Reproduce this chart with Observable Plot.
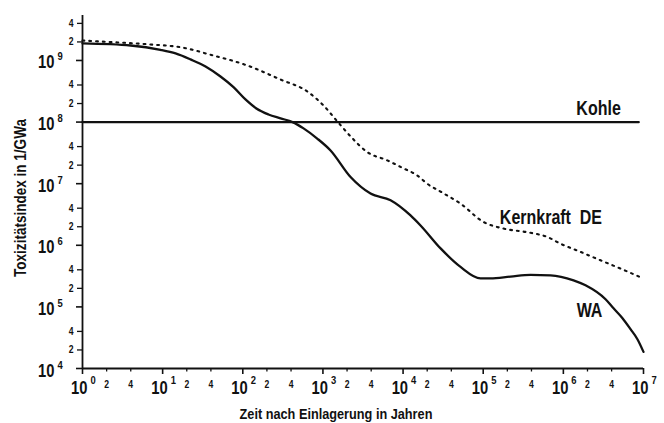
<!DOCTYPE html>
<html><head><meta charset="utf-8">
<script src="https://cdn.jsdelivr.net/npm/d3@7"></script>
<script src="https://cdn.jsdelivr.net/npm/@observablehq/plot@0.6"></script>
<style>body{margin:0;background:#fff} svg{display:block}</style>
</head><body><div id="chart"></div>
<script>
// WA (solid)
const waYears  = [1, 4, 9.4, 14.5, 22.3, 34.3, 52.7, 76.6, 108, 148, 209, 296, 417, 573, 849, 1245, 2213, 3926, 6982, 12390, 16520, 29380, 52120, 92470, 123300, 219300, 389000, 691800, 1.34e6, 1.89e6, 3.36e6, 4.23e6, 5.47e6, 6.89e6, 8.4e6, 1e7];
const waValues = [1.89e9, 1.75e9, 1.49e9, 1.30e9, 1.04e9, 8.0e8, 5.5e8, 3.69e8, 2.33e8, 1.66e8, 1.33e8, 1.15e8, 1.0e8, 7.9e7, 5.4e7, 3.46e7, 1.28e7, 6.9e6, 5.4e6, 3.06e6, 2.1e6, 8.9e5, 4.45e5, 2.9e5, 2.9e5, 3.1e5, 3.3e5, 3.26e5, 2.7e5, 2.24e5, 1.33e5, 9.5e4, 6.56e4, 4.35e4, 2.99e4, 1.86e4];
// Kernkraft DE (dotted)
const kkYears  = [1, 1.68, 7.06, 16.7, 43.2, 113.5, 296, 637, 1016, 1479, 2213, 3573, 6339, 10140, 15030, 20000, 32000, 52100, 101000, 179000, 354000, 634000, 923000, 1.64e6, 2.91e6, 5.16e6, 1e7];
const kkValues = [2.11e9, 2.03e9, 1.82e9, 1.64e9, 1.2e9, 8.3e8, 4.9e8, 3.14e8, 1.86e8, 1.06e8, 5.85e7, 3.26e7, 2.39e7, 1.77e7, 1.36e7, 1.0e7, 6.97e6, 4.74e6, 2.39e6, 1.87e6, 1.63e6, 1.36e6, 1.06e6, 7.8e5, 5.7e5, 4.19e5, 2.88e5];
// Kohle (horizontal)
const kohleYears  = [1, 8.7e6];
const kohleValues = [1e8, 1e8];

const labelNames  = ["Kohle", "Kernkraft  DE", "WA"];
const labelYears  = [2.75e6, 7.0e5, 2.12e6];
const labelValues = [1.28e8, 2.2e6, 6.9e4];

const xDecades = [1, 10, 100, 1e3, 1e4, 1e5, 1e6, 1e7];
const xMinor   = [2, 4, 20, 40, 200, 400, 2e3, 4e3, 2e4, 4e4, 2e5, 4e5, 2e6, 4e6];
const yDecades = [1e4, 1e5, 1e6, 1e7, 1e8, 1e9];
const yMinor   = [2e4, 4e4, 2e5, 4e5, 2e6, 4e6, 2e7, 4e7, 2e8, 4e8, 2e9, 4e9];

const xTitle = "Zeit nach Einlagerung in Jahren";
const yTitle = "Toxizitätsindex in 1/GWa";

const FONT = "'Liberation Sans', Arial, sans-serif";
const NARROW = 0.82;
const lead = d => String(Math.round(d / Math.pow(10, Math.floor(Math.log10(d) + 1e-9))));
const expo = d => String(Math.round(Math.log10(d)));
const rows = (xs, ys) => xs.map((x, i) => ({x, y: ys[i]}));
const INK = "#111";

const chart = Plot.plot({
  width: 664, height: 423,
  marginLeft: 82, marginRight: 21, marginTop: 15, marginBottom: 55,
  x: {type: "log", domain: [1, 1e7], axis: null},
  y: {type: "log", domain: [1e4, Math.pow(10, 9.73)], axis: null},
  style: {fontFamily: FONT, fontWeight: "bold", background: "#fff", color: INK},
  marks: [
    // axis lines
    Plot.ruleX([1], {strokeWidth: 1.8, stroke: INK}),
    Plot.ruleY([1e4], {strokeWidth: 1.8, stroke: INK}),
    // tick marks
    Plot.ruleX(xMinor, {x: d => d, y1: 1e4, y2: 1e4, insetBottom: -3.5, strokeWidth: 1.3, stroke: INK}),
    Plot.ruleX(xDecades, {x: d => d, y1: 1e4, y2: 1e4, insetBottom: -6, strokeWidth: 1.6, stroke: INK}),
    Plot.ruleY(yMinor, {y: d => d, x1: 1, x2: 1, insetLeft: -5, strokeWidth: 1.3, stroke: INK}),
    Plot.ruleY(yDecades, {y: d => d, x1: 1, x2: 1, insetLeft: -6, strokeWidth: 1.6, stroke: INK}),
    // minor tick labels
    Plot.text(xMinor, {x: d => d, frameAnchor: "bottom", text: lead, lineAnchor: "top", dy: 12, fontSize: 10.5}),
    Plot.text(yMinor, {y: d => d, frameAnchor: "left", text: lead, textAnchor: "end", dx: -9, fontSize: 10.5}),
    // decade labels 10^n
    Plot.text(xDecades, {x: d => d, frameAnchor: "bottom", text: () => "10", textAnchor: "end", lineAnchor: "bottom", dx: 5, dy: 25, fontSize: 18}),
    Plot.text(xDecades, {x: d => d, frameAnchor: "bottom", text: expo, textAnchor: "start", lineAnchor: "bottom", dx: 8, dy: 15, fontSize: 11.5}),
    Plot.text(yDecades, {y: d => d, frameAnchor: "left", text: () => "10", textAnchor: "end", lineAnchor: "bottom", dx: -28, dy: 8, fontSize: 18}),
    Plot.text(yDecades, {y: d => d, frameAnchor: "left", text: expo, textAnchor: "start", lineAnchor: "bottom", dx: -25, dy: 0, fontSize: 11.5}),
    // axis titles
    Plot.text([xTitle], {frameAnchor: "bottom", text: d => d, textAnchor: "middle", lineAnchor: "bottom", dx: -27, dy: 50, fontSize: 15.5}),
    Plot.text([yTitle], {frameAnchor: "left", text: d => d, textAnchor: "middle", rotate: -90, lineAnchor: "bottom", dx: -57, dy: 6, fontSize: 16.5}),
    // series
    Plot.line(rows(kohleYears, kohleValues), {x: "x", y: "y", stroke: INK, strokeWidth: 2.4}),
    Plot.line(rows(kkYears, kkValues), {x: "x", y: "y", curve: "monotone-x", stroke: INK, strokeWidth: 2.1, strokeDasharray: "1.8,5"}),
    Plot.line(rows(waYears, waValues), {x: "x", y: "y", curve: "monotone-x", stroke: INK, strokeWidth: 2.3}),
    Plot.text(labelNames.map((t, i) => ({t, x: labelYears[i], y: labelValues[i]})), {x: "x", y: "y", text: "t", lineAnchor: "bottom", fontSize: 19.5})
  ]
});
document.getElementById("chart").appendChild(chart);
// condense glyphs horizontally to mimic a narrow bold typeface
d3.select(chart).selectAll("text").each(function () {
  const w = this.getComputedTextLength();
  if (w > 0) {
    this.setAttribute("textLength", (w * NARROW).toFixed(2));
    this.setAttribute("lengthAdjust", "spacingAndGlyphs");
  }
});
</script>
</body></html>
